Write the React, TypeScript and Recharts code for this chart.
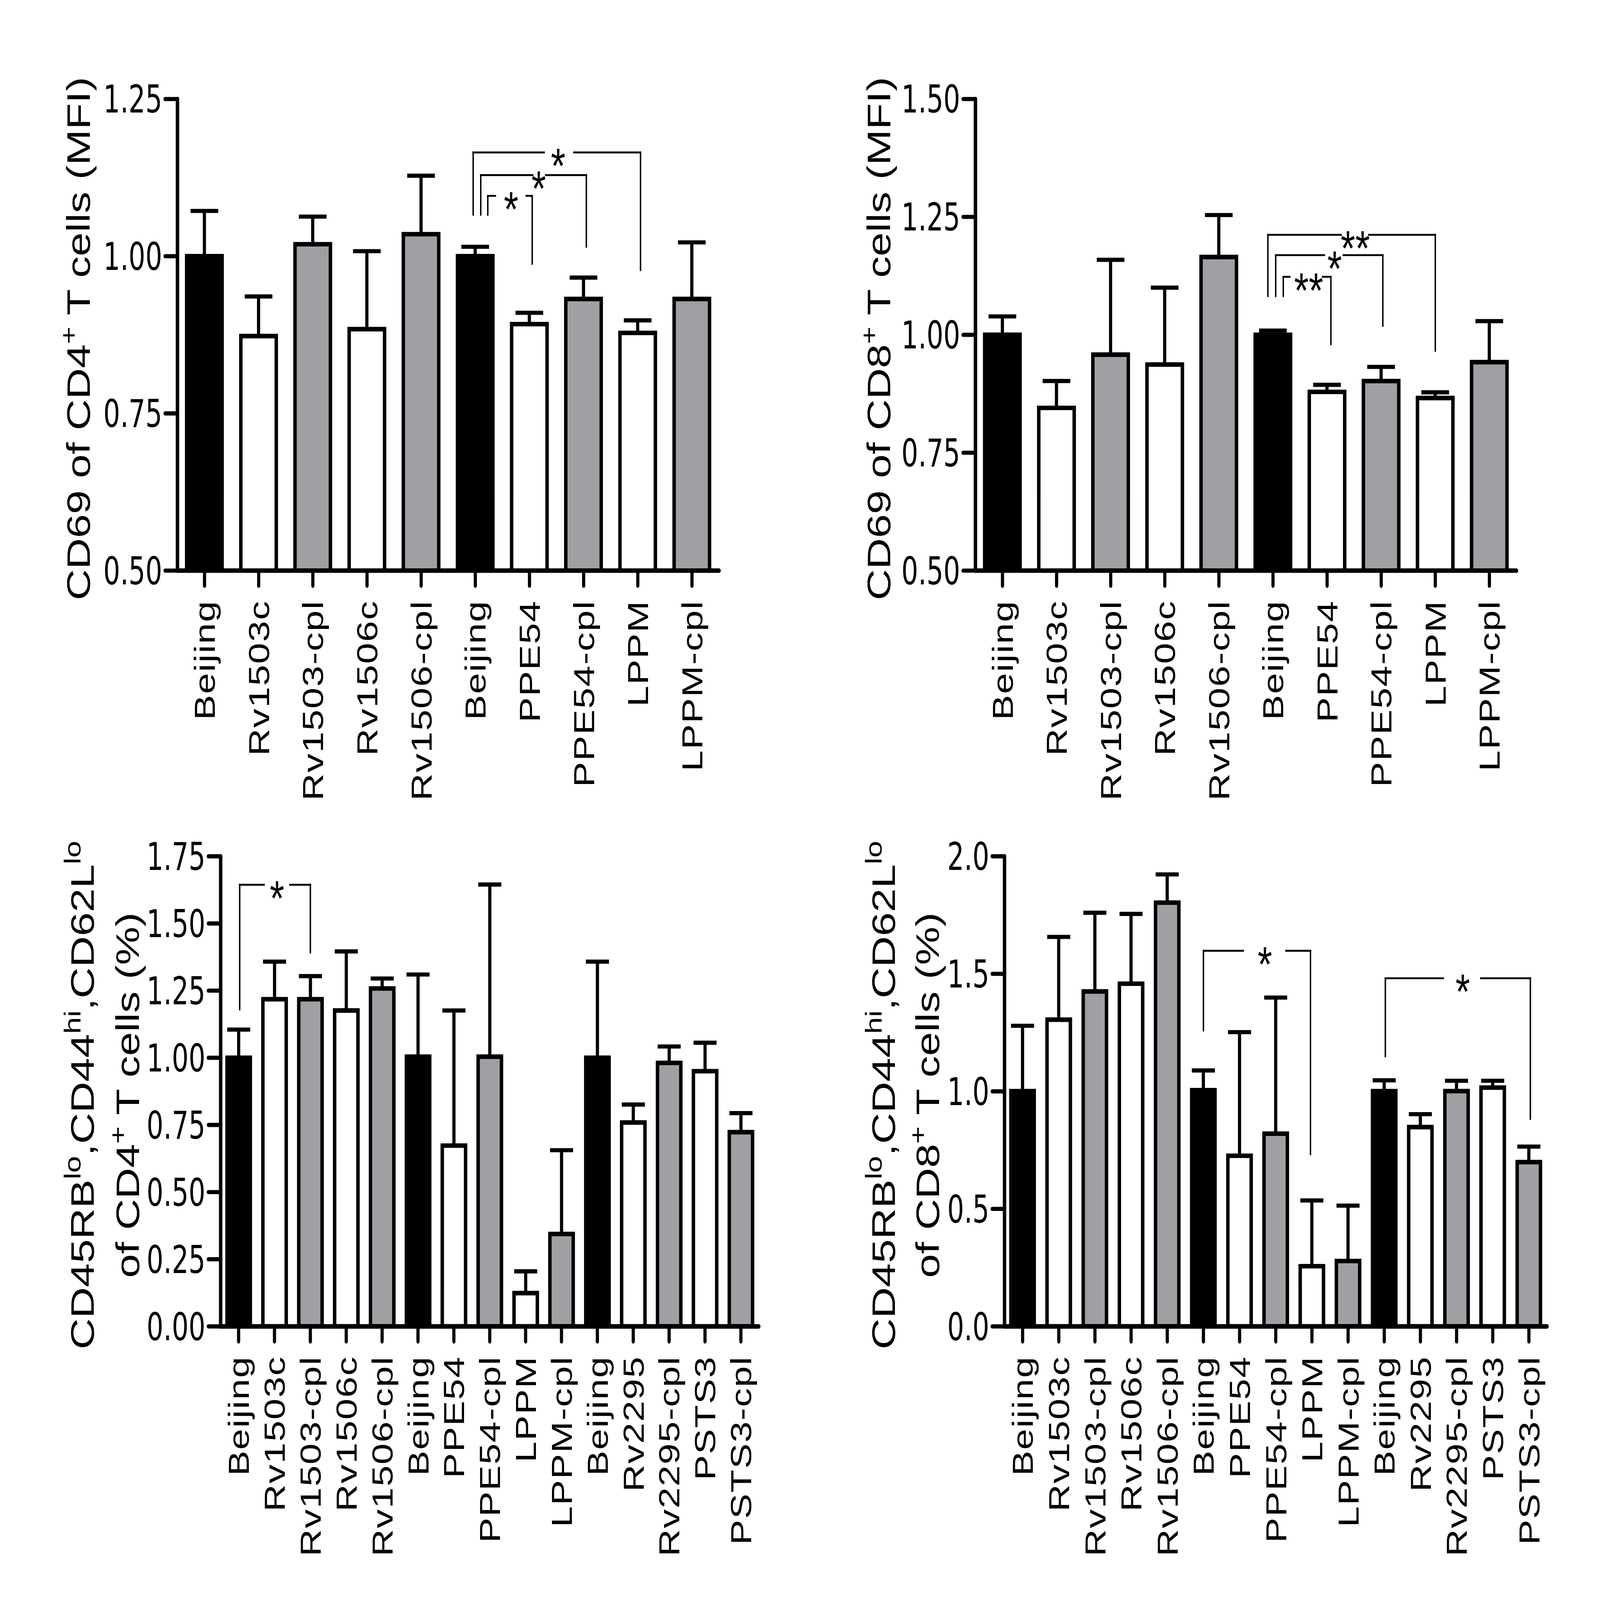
import React from "react";
import { Bar, BarChart, Cell, ErrorBar, ReferenceDot, ReferenceLine, XAxis, YAxis } from "recharts";

const SANS = "'Liberation Sans', Arial, Helvetica, sans-serif";
const NARROW = "'Liberation Sans Narrow', 'Arial Narrow', 'DejaVu Sans Condensed', sans-serif";

const BLACK = "#000000";
const WHITE = "#ffffff";
const GREY = "#a09fa4";

const PAGE_W = 5554;
const PAGE_H = 4234;

// ---- top row: CD69 MFI ----
const strainsTop = ["Beijing", "Rv1503c", "Rv1503-cpl", "Rv1506c", "Rv1506-cpl", "Beijing", "PPE54", "PPE54-cpl", "LPPM", "LPPM-cpl"];
const fillsTop = [BLACK, WHITE, GREY, WHITE, GREY, BLACK, WHITE, GREY, WHITE, GREY];

const cd69Cd4Mean = [1.0, 0.873, 1.019, 0.884, 1.035, 1.0, 0.892, 0.932, 0.878, 0.932];
const cd69Cd4Sem = [0.072, 0.063, 0.044, 0.124, 0.093, 0.015, 0.018, 0.034, 0.02, 0.09];
const cd69Cd4Ticks = [0.5, 0.75, 1.0, 1.25];

const cd69Cd8Mean = [1.0, 0.845, 0.958, 0.937, 1.165, 1.0, 0.879, 0.902, 0.866, 0.942];
const cd69Cd8Sem = [0.039, 0.057, 0.201, 0.163, 0.089, 0.009, 0.015, 0.03, 0.012, 0.087];
const cd69Cd8Ticks = [0.5, 0.75, 1.0, 1.25, 1.5];

// ---- bottom row: effector memory % ----
const strainsBottom = [
  "Beijing", "Rv1503c", "Rv1503-cpl", "Rv1506c", "Rv1506-cpl",
  "Beijing", "PPE54", "PPE54-cpl", "LPPM", "LPPM-cpl",
  "Beijing", "Rv2295", "Rv2295-cpl", "PSTS3", "PSTS3-cpl",
];
const fillsBottom = [BLACK, WHITE, GREY, WHITE, GREY, BLACK, WHITE, GREY, WHITE, GREY, BLACK, WHITE, GREY, WHITE, GREY];

const memCd4Mean = [1.0, 1.218, 1.218, 1.176, 1.258, 1.004, 0.673, 1.004, 0.124, 0.344, 1.0, 0.759, 0.981, 0.95, 0.723];
const memCd4Sem = [0.105, 0.14, 0.086, 0.22, 0.037, 0.306, 0.503, 0.641, 0.081, 0.312, 0.358, 0.067, 0.061, 0.106, 0.071];
const memCd4Ticks = [0, 0.25, 0.5, 0.75, 1.0, 1.25, 1.5, 1.75];

const memCd8Mean = [1.001, 1.305, 1.425, 1.458, 1.803, 1.005, 0.726, 0.82, 0.256, 0.278, 1.001, 0.848, 1.001, 1.016, 0.699];
const memCd8Sem = [0.278, 0.352, 0.335, 0.297, 0.12, 0.084, 0.526, 0.579, 0.28, 0.236, 0.046, 0.055, 0.044, 0.029, 0.066];
const memCd8Ticks = [0, 0.5, 1.0, 1.5, 2.0];

// significance brackets: x in bar index units, y in data units
type Bracket = {
  from: number; to: number; y: number; leftEnd: number; rightEnd: number;
  gapFrom: number; gapTo: number; mark: string; markX: number;
};

const bracketsCd69Cd4: Bracket[] = [
  { from: 4.96, to: 8.05, y: 1.165, leftEnd: 1.066, rightEnd: 0.978, gapFrom: 6.27, gapTo: 6.82, mark: "*", markX: 6.53 },
  { from: 5.1, to: 7.05, y: 1.129, leftEnd: 1.066, rightEnd: 1.015, gapFrom: 6.06, gapTo: 6.3, mark: "*", markX: 6.17 },
  { from: 5.23, to: 6.05, y: 1.096, leftEnd: 1.066, rightEnd: 0.988, gapFrom: 5.37, gapTo: 5.94, mark: "*", markX: 5.66 },
];
const bracketsCd69Cd8: Bracket[] = [
  { from: 4.905, to: 8.0, y: 1.212, leftEnd: 1.082, rightEnd: 0.966, gapFrom: 6.26, gapTo: 6.77, mark: "**", markX: 6.52 },
  { from: 5.05, to: 7.03, y: 1.169, leftEnd: 1.082, rightEnd: 1.019, gapFrom: 5.95, gapTo: 6.3, mark: "*", markX: 6.14 },
  { from: 5.19, to: 6.07, y: 1.123, leftEnd: 1.082, rightEnd: 0.98, gapFrom: 5.31, gapTo: 5.92, mark: "**", markX: 5.66 },
];
const bracketsMemCd4: Bracket[] = [
  { from: 0.03, to: 2.0, y: 1.644, leftEnd: 1.18, rightEnd: 1.392, gapFrom: 0.71, gapTo: 1.43, mark: "*", markX: 1.07 },
];
const bracketsMemCd8: Bracket[] = [
  { from: 5.0, to: 7.96, y: 1.598, leftEnd: 1.259, rightEnd: 0.733, gapFrom: 6.1, gapTo: 7.28, mark: "*", markX: 6.7 },
  { from: 10.03, to: 14.04, y: 1.481, leftEnd: 1.149, rightEnd: 0.883, gapFrom: 11.63, gapTo: 12.67, mark: "*", markX: 12.17 },
];

type Part = [string, boolean];
const titleCd69Cd4: Part[][] = [[["CD69 of CD4", false], ["+", true], [" T cells (MFI)", false]]];
const titleCd69Cd8: Part[][] = [[["CD69 of CD8", false], ["+", true], [" T cells (MFI)", false]]];
const titleMemCd4: Part[][] = [
  [["CD45RB", false], ["lo", true], [",CD44", false], ["hi", true], [",CD62L", false], ["lo", true]],
  [["of CD4", false], ["+", true], [" T cells (%)", false]],
];
const titleMemCd8: Part[][] = [
  [["CD45RB", false], ["lo", true], [",CD44", false], ["hi", true], [",CD62L", false], ["lo", true]],
  [["of CD8", false], ["+", true], [" T cells (%)", false]],
];

const axisStyle = { stroke: "#000", strokeWidth: 12, strokeLinecap: "round" as const };
const tickStyle = { stroke: "#000", strokeWidth: 11, strokeLinecap: "round" as const };

function Title({ cx, cy, parts }: { cx: number; cy: number; parts: Part[] }) {
  const fs = 114;
  const rise = 46;
  let up = false;
  return (
    <g transform={`translate(${cx},${cy}) rotate(-90)`}>
      <text x={0} y={fs * 0.36} textAnchor="middle" fontSize={fs} fontFamily={SANS} fill="#000">
        {parts.map(([t, sup], i) => {
          let dy = 0;
          if (sup && !up) {
            dy = -rise;
            up = true;
          } else if (!sup && up) {
            dy = rise;
            up = false;
          }
          return (
            <tspan key={i} dy={dy} fontSize={sup ? fs * 0.7 : fs}>
              {t}
            </tspan>
          );
        })}
      </text>
    </g>
  );
}

function CategoryTick(props: any) {
  const { x, y, payload, labels } = props;
  return (
    <g transform={`translate(${x},${y})`}>
      <text
        transform="rotate(-90)"
        x={0}
        y={0}
        dy="0.36em"
        textAnchor="end"
        fontSize={100}
        letterSpacing={2.5}
        fontFamily={SANS}
        fill="#000"
      >
        {labels[payload.value]}
      </text>
    </g>
  );
}

function bracketParts(b: Bracket, key: string) {
  const line = { stroke: "#000", strokeWidth: 5, strokeLinecap: "square" as const, ifOverflow: "visible" as const };
  return [
    <ReferenceLine key={key + "l"} segment={[{ x: b.from, y: b.leftEnd }, { x: b.from, y: b.y }]} {...line} />,
    <ReferenceLine key={key + "a"} segment={[{ x: b.from, y: b.y }, { x: b.gapFrom, y: b.y }]} {...line} />,
    <ReferenceLine key={key + "b"} segment={[{ x: b.gapTo, y: b.y }, { x: b.to, y: b.y }]} {...line} />,
    <ReferenceLine key={key + "r"} segment={[{ x: b.to, y: b.y }, { x: b.to, y: b.rightEnd }]} {...line} />,
    <ReferenceDot
      key={key + "m"}
      x={b.markX}
      y={b.y}
      r={0}
      ifOverflow="visible"
      shape={(p: any) => (
        <text x={p.cx} y={p.cy} dy="0.62em" textAnchor="middle" fontSize={130} fontFamily={SANS} fill="#000">
          {b.mark}
        </text>
      )}
    />,
  ];
}

type PanelProps = {
  left: number; top: number; width: number; height: number;
  plotLeft: number; plotTop: number; plotWidth: number; plotBottom: number;
  labels: string[]; fills: string[]; means: number[]; sems: number[];
  yTicks: number[]; digits: number; barSize: number; cap: number;
  brackets: Bracket[]; title: Part[][]; titleX: number[];
};

function Panel(p: PanelProps) {
  const data = p.means.map((v, i) => ({ i, v, e: [0, p.sems[i]] }));
  const n = p.labels.length;
  const idx = p.labels.map((_, i) => i);
  const cy = (p.plotTop + p.plotBottom) / 2 + 10;
  return (
    <div style={{ position: "absolute", left: p.left, top: p.top }}>
      <BarChart
        width={p.width}
        height={p.height}
        data={data}
        margin={{ top: p.plotTop, right: p.width - p.plotLeft - p.plotWidth, bottom: 0, left: 0 }}
      >
        <XAxis
          dataKey="i"
          type="number"
          domain={[-0.5, n - 0.5]}
          ticks={idx}
          interval={0}
          height={p.height - p.plotBottom}
          axisLine={axisStyle}
          tickLine={tickStyle}
          tickSize={40}
          tickMargin={38}
          tick={(tp: any) => <CategoryTick {...tp} labels={p.labels} />}
        />
        <YAxis
          type="number"
          domain={[p.yTicks[0], p.yTicks[p.yTicks.length - 1]]}
          allowDataOverflow
          ticks={p.yTicks}
          interval={0}
          width={p.plotLeft}
          axisLine={axisStyle}
          tickLine={tickStyle}
          tickSize={43}
          tickMargin={10}
          tickFormatter={(v: number) => v.toFixed(p.digits)}
          tick={{ fill: "#000", fontSize: 102, fontFamily: NARROW }}
          label={{
            content: () => (
              <g>
                {p.title.map((parts, k) => (
                  <Title key={k} cx={p.titleX[k]} cy={cy} parts={parts} />
                ))}
              </g>
            ),
          }}
        />
        <Bar dataKey="v" barSize={p.barSize} stroke="#000" strokeWidth={12} isAnimationActive={false}>
          {p.fills.map((f, i) => (
            <Cell key={i} fill={f} />
          ))}
          <ErrorBar dataKey="e" width={p.cap} strokeWidth={11} stroke="#000" isAnimationActive={false} />
        </Bar>
        {p.brackets.flatMap((b, k) => bracketParts(b, "br" + k))}
      </BarChart>
    </div>
  );
}

export default function App() {
  // the drawing is laid out on a 5554x4234 canvas and stretched to the real viewport
  const vw = typeof window !== "undefined" ? window.innerWidth : PAGE_W;
  const vh = typeof window !== "undefined" ? window.innerHeight : PAGE_H;
  const sx = Math.min(1, vw / PAGE_W);
  const sy = Math.min(1, vh / PAGE_H);
  return (
    <div style={{ position: "absolute", left: 0, top: 0, width: PAGE_W * sx, height: PAGE_H * sy, overflow: "hidden", background: "#fff" }}>
      <div style={{ position: "relative", width: PAGE_W, height: PAGE_H, transform: `scale(${sx}, ${sy})`, transformOrigin: "0 0" }}>
        <Panel
          left={0} top={0} width={2750} height={2180}
          plotLeft={616} plotTop={262} plotWidth={1880} plotBottom={1510}
          labels={strainsTop} fills={fillsTop} means={cd69Cd4Mean} sems={cd69Cd4Sem}
          yTicks={cd69Cd4Ticks} digits={2} barSize={123} cap={48}
          brackets={bracketsCd69Cd4} title={titleCd69Cd4} titleX={[271]}
        />
        <Panel
          left={2780} top={0} width={2774} height={2180}
          plotLeft={606} plotTop={262} plotWidth={1878} plotBottom={1510}
          labels={strainsTop} fills={fillsTop} means={cd69Cd8Mean} sems={cd69Cd8Sem}
          yTicks={cd69Cd8Ticks} digits={2} barSize={123} cap={48}
          brackets={bracketsCd69Cd8} title={titleCd69Cd8} titleX={[269]}
        />
        <Panel
          left={0} top={2180} width={2750} height={2054}
          plotLeft={766} plotTop={86} plotWidth={1868} plotBottom={1330}
          labels={strainsBottom} fills={fillsBottom} means={memCd4Mean} sems={memCd4Sem}
          yTicks={memCd4Ticks} digits={2} barSize={81} cap={40}
          brackets={bracketsMemCd4} title={titleMemCd4} titleX={[284, 442]}
        />
        <Panel
          left={2780} top={2180} width={2774} height={2054}
          plotLeft={707} plotTop={86} plotWidth={1883} plotBottom={1330}
          labels={strainsBottom} fills={fillsBottom} means={memCd8Mean} sems={memCd8Sem}
          yTicks={memCd8Ticks} digits={1} barSize={81} cap={40}
          brackets={bracketsMemCd8} title={titleMemCd8} titleX={[286, 439]}
        />
      </div>
    </div>
  );
}
